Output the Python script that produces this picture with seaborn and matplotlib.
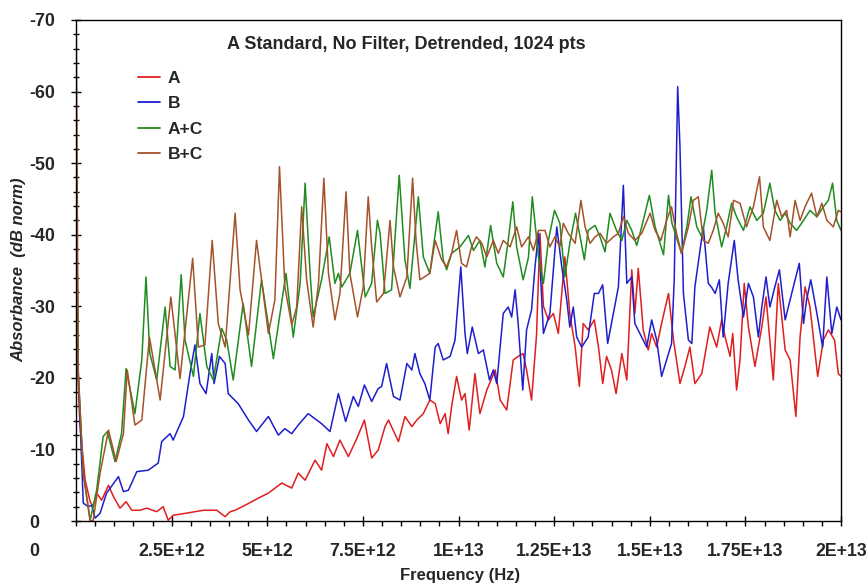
import matplotlib
matplotlib.use("Agg")
import matplotlib.pyplot as plt
import numpy as np
import pandas as pd
import seaborn as sns
from matplotlib.ticker import FixedLocator, MultipleLocator

# ---------------- data (frequency in units of 1E12 Hz, absorbance in dB norm) ----------------
series_names = ["A", "B", "A+C", "B+C"]
series_colors = ["#E01E1E", "#1E1ECC", "#1F8C1F", "#A4522A"]

a_freq = [0.0, 0.10, 0.24, 0.37, 0.45, 0.54, 0.67, 0.85, 0.98, 1.15,
          1.31, 1.46, 1.67, 1.85, 2.11, 2.28, 2.41, 2.54, 2.89, 3.33,
          3.68, 3.90, 4.03, 4.16, 4.42, 4.77, 5.03, 5.38, 5.64, 5.81,
          5.99, 6.25, 6.42, 6.56, 6.73, 6.90, 7.12, 7.34, 7.54, 7.73,
          7.90, 8.08, 8.17, 8.43, 8.60, 8.78, 8.91, 9.08, 9.25, 9.39,
          9.52, 9.65, 9.73, 9.82, 9.95, 10.08, 10.17, 10.28, 10.43, 10.56,
          10.74, 10.96, 11.09, 11.26, 11.43, 11.56, 11.69, 11.78, 11.91, 12.04,
          12.13, 12.22, 12.35, 12.48, 12.61, 12.78, 12.91, 13.05, 13.16, 13.26,
          13.39, 13.55, 13.66, 13.77, 13.87, 14.00, 14.12, 14.27, 14.40, 14.53,
          14.61, 14.70, 14.83, 14.96, 15.05, 15.18, 15.31, 15.49, 15.62, 15.79,
          15.92, 16.05, 16.18, 16.36, 16.57, 16.75, 16.88, 16.97, 17.10, 17.17,
          17.27, 17.36, 17.47, 17.58, 17.75, 17.93, 18.04, 18.23, 18.36, 18.54,
          18.67, 18.82, 18.93, 19.06, 19.19, 19.39, 19.54, 19.67, 19.83, 19.93,
          20.0]
a_abs = [-27, -13.6, -5.7, -2.7, -2.0, -3.9, -2.9, -5.0, -3.4, -1.8,
         -2.7, -1.5, -1.5, -1.8, -1.3, -2.0, -0.1, -0.8, -1.1, -1.5,
         -1.5, -0.6, -1.3, -1.5, -2.2, -3.2, -3.9, -5.3, -4.6, -6.7,
         -5.7, -8.5, -7.1, -10.8, -9.0, -11.3, -9.0, -11.5, -14.1, -8.8,
         -9.9, -13.2, -14.1, -11.1, -14.6, -13.2, -14.1, -15.0, -16.9, -16.4,
         -13.6, -15.0, -12.2, -16.0, -20.2, -16.9, -17.8, -12.7, -20.6, -15.0,
         -18.3, -21.1, -16.9, -15.5, -22.5, -23.0, -23.4, -21.1, -16.9, -26.0,
         -40.2, -30.0, -28.1, -29.0, -26.2, -36.9, -29.0, -24.3, -18.8, -27.6,
         -26.7, -28.1, -24.3, -19.2, -23.0, -21.1, -17.8, -23.4, -19.7, -35.1,
         -29.0, -35.3, -26.7, -23.9, -26.2, -24.3, -27.6, -31.8, -25.3, -19.2,
         -21.6, -24.3, -19.2, -20.6, -27.1, -24.3, -28.1, -25.7, -23.0, -26.2,
         -18.3, -22.5, -33.2, -27.1, -21.6, -27.1, -31.3, -19.7, -33.2, -23.9,
         -22.5, -14.6, -25.7, -32.7, -29.9, -20.2, -25.3, -26.7, -25.3, -20.6,
         -20.2]

b_freq = [0.0, 0.06, 0.19, 0.32, 0.41, 0.50, 0.63, 0.80, 1.11, 1.24,
          1.37, 1.59, 1.89, 2.15, 2.24, 2.46, 2.54, 2.81, 2.98, 3.11,
          3.24, 3.40, 3.55, 3.61, 3.75, 3.90, 3.98, 4.24, 4.51, 4.72,
          4.85, 5.03, 5.29, 5.46, 5.64, 5.81, 6.07, 6.42, 6.64, 6.86,
          7.05, 7.25, 7.38, 7.54, 7.73, 7.90, 7.99, 8.12, 8.30, 8.47,
          8.65, 8.78, 8.86, 8.99, 9.12, 9.25, 9.39, 9.47, 9.60, 9.78,
          9.91, 10.06, 10.17, 10.23, 10.36, 10.52, 10.65, 10.81, 10.91, 11.00,
          11.17, 11.30, 11.39, 11.48, 11.56, 11.68, 11.78, 11.91, 12.00, 12.09,
          12.22, 12.39, 12.57, 12.70, 12.83, 12.91, 13.00, 13.09, 13.22, 13.39,
          13.55, 13.66, 13.77, 13.90, 14.05, 14.18, 14.31, 14.40, 14.53, 14.61,
          14.79, 14.92, 15.05, 15.18, 15.31, 15.44, 15.57, 15.64, 15.73, 15.79,
          15.88, 16.01, 16.10, 16.18, 16.40, 16.53, 16.61, 16.71, 16.82, 16.92,
          17.05, 17.21, 17.31, 17.45, 17.58, 17.71, 17.84, 17.93, 18.04, 18.14,
          18.27, 18.39, 18.54, 18.67, 18.80, 18.91, 19.02, 19.10, 19.21, 19.37,
          19.52, 19.63, 19.76, 19.89, 20.0]
b_abs = [-47.6, -20.6, -2.5, -2.0, -2.2, -0.4, -1.1, -3.9, -6.2, -4.1,
         -4.3, -6.9, -7.1, -8.1, -11.1, -12.2, -11.3, -14.6, -20.6, -24.6,
         -19.2, -17.8, -23.4, -19.2, -23.0, -22.0, -17.8, -16.4, -14.1, -12.5,
         -13.4, -14.6, -12.0, -12.9, -12.2, -13.4, -15.0, -13.6, -12.5, -17.8,
         -13.9, -17.4, -16.0, -19.0, -16.7, -18.5, -18.8, -22.0, -17.4, -16.9,
         -22.0, -21.1, -23.4, -20.6, -19.2, -16.9, -24.3, -24.8, -22.5, -23.0,
         -25.3, -35.5, -26.2, -23.4, -27.1, -23.4, -23.9, -19.7, -21.1, -19.2,
         -29.0, -29.9, -28.5, -32.3, -27.6, -18.3, -26.7, -29.5, -35.5, -40.2,
         -26.2, -29.0, -41.1, -35.5, -30.9, -27.1, -29.9, -25.7, -24.3, -25.7,
         -31.8, -31.8, -33.0, -24.8, -29.0, -32.7, -46.9, -33.2, -34.1, -27.6,
         -25.7, -24.3, -28.1, -25.3, -20.2, -22.5, -24.8, -33.7, -60.7, -52.3,
         -31.8, -25.3, -24.8, -32.7, -41.1, -33.2, -32.7, -31.8, -33.7, -25.7,
         -33.2, -39.2, -33.7, -28.5, -33.2, -31.3, -25.7, -29.9, -34.1, -29.9,
         -32.7, -35.1, -28.1, -30.9, -33.7, -36.0, -27.6, -30.9, -33.7, -29.0,
         -24.3, -34.1, -26.2, -29.9, -28.1]

ac_freq = [0.0, 0.06, 0.19, 0.37, 0.54, 0.71, 0.82, 1.02, 1.19, 1.31,
           1.54, 1.72, 1.83, 1.93, 2.11, 2.33, 2.46, 2.59, 2.75, 2.85,
           3.07, 3.24, 3.42, 3.59, 3.81, 3.94, 4.11, 4.37, 4.59, 4.85,
           5.16, 5.49, 5.68, 5.86, 5.99, 6.12, 6.20, 6.42, 6.62, 6.77,
           6.86, 6.95, 7.16, 7.36, 7.56, 7.73, 7.88, 7.95, 8.08, 8.25,
           8.45, 8.60, 8.73, 8.95, 9.08, 9.25, 9.47, 9.60, 9.69, 9.82,
           10.04, 10.26, 10.39, 10.56, 10.69, 10.84, 11.00, 11.17, 11.30, 11.42,
           11.52, 11.69, 11.83, 11.93, 12.09, 12.22, 12.35, 12.51, 12.65, 12.78,
           12.91, 13.06, 13.18, 13.29, 13.39, 13.57, 13.70, 13.83, 13.96, 14.13,
           14.27, 14.40, 14.53, 14.66, 14.79, 14.99, 15.14, 15.36, 15.49, 15.58,
           15.83, 15.97, 16.08, 16.23, 16.36, 16.49, 16.62, 16.71, 16.88, 17.01,
           17.14, 17.27, 17.45, 17.62, 17.80, 17.97, 18.14, 18.27, 18.41, 18.54,
           18.67, 18.84, 19.02, 19.19, 19.37, 19.54, 19.67, 19.78, 19.89, 20.0]
ac_abs = [-54, -20.6, -6.7, -0.1, -4.3, -11.8, -12.5, -8.3, -12.2, -21.3,
          -15.0, -22.5, -34.1, -23.4, -19.7, -29.9, -21.6, -21.1, -34.4, -25.3,
          -20.2, -29.0, -21.6, -19.7, -26.9, -25.3, -19.7, -30.4, -21.6, -33.7,
          -22.7, -34.6, -25.7, -33.2, -47.2, -34.6, -28.5, -33.7, -39.7, -33.2,
          -34.6, -32.7, -34.6, -40.6, -31.3, -33.2, -42.0, -40.2, -31.8, -32.3,
          -48.3, -36.5, -32.5, -45.3, -36.9, -34.6, -43.2, -36.5, -35.1, -37.4,
          -38.3, -39.9, -37.8, -39.2, -35.5, -41.3, -36.0, -34.1, -39.2, -44.6,
          -38.3, -33.7, -36.9, -45.3, -36.9, -33.2, -39.2, -43.4, -41.6, -34.1,
          -38.8, -43.0, -39.7, -36.5, -40.6, -41.3, -39.7, -37.6, -43.0, -40.6,
          -39.2, -42.0, -40.6, -38.5, -41.1, -45.5, -41.1, -37.2, -45.5, -41.6,
          -37.4, -41.1, -45.3, -41.1, -39.7, -43.4, -49.0, -43.0, -38.3, -41.1,
          -44.4, -42.5, -40.6, -43.9, -42.0, -43.0, -47.2, -43.4, -42.0, -43.0,
          -41.6, -40.6, -42.0, -43.4, -42.5, -43.9, -44.8, -47.2, -42.0, -40.6]

bc_freq = [0.0, 0.06, 0.19, 0.37, 0.45, 0.63, 0.85, 1.05, 1.24, 1.34,
           1.54, 1.72, 1.92, 2.20, 2.48, 2.72, 3.05, 3.20, 3.37, 3.56,
           3.72, 3.90, 4.16, 4.29, 4.51, 4.72, 5.03, 5.20, 5.32, 5.46,
           5.64, 5.77, 5.90, 6.03, 6.20, 6.34, 6.48, 6.60, 6.77, 6.90,
           7.06, 7.16, 7.36, 7.51, 7.64, 7.73, 7.86, 8.04, 8.21, 8.30,
           8.47, 8.65, 8.80, 8.89, 8.99, 9.25, 9.39, 9.56, 9.69, 9.82,
           9.95, 10.08, 10.21, 10.34, 10.47, 10.61, 10.74, 10.91, 11.04, 11.17,
           11.35, 11.52, 11.65, 11.83, 11.96, 12.09, 12.26, 12.39, 12.52, 12.65,
           12.74, 12.87, 13.05, 13.20, 13.31, 13.44, 13.57, 13.70, 13.87, 14.05,
           14.18, 14.31, 14.44, 14.61, 14.79, 15.01, 15.14, 15.29, 15.44, 15.57,
           15.70, 15.83, 16.01, 16.14, 16.27, 16.40, 16.53, 16.66, 16.79, 16.92,
           17.05, 17.19, 17.36, 17.53, 17.71, 17.87, 17.97, 18.14, 18.32, 18.45,
           18.58, 18.67, 18.80, 18.93, 19.06, 19.23, 19.37, 19.50, 19.63, 19.80,
           19.93, 20.0]
bc_abs = [-75, -20.6, -6.7, 0.0, -0.1, -6.7, -12.7, -8.3, -12.2, -21.1,
          -13.4, -14.1, -25.7, -16.9, -31.3, -19.9, -36.7, -24.3, -24.6, -39.2,
          -27.6, -24.3, -43.0, -32.3, -26.0, -39.2, -26.2, -30.9, -49.5, -32.7,
          -27.4, -29.9, -43.9, -33.7, -27.1, -33.2, -47.9, -34.6, -28.1, -31.8,
          -46.0, -34.6, -28.5, -32.7, -45.3, -38.3, -30.6, -31.8, -42.0, -35.5,
          -31.3, -34.1, -47.9, -39.2, -33.7, -34.6, -39.2, -36.5, -35.5, -37.4,
          -40.6, -36.0, -35.5, -38.3, -39.7, -38.8, -36.9, -39.2, -37.4, -39.2,
          -38.3, -41.1, -38.3, -39.7, -37.8, -40.6, -40.6, -38.3, -39.7, -38.3,
          -41.6, -40.2, -38.8, -44.8, -41.1, -38.8, -39.7, -40.2, -38.8, -39.7,
          -40.2, -42.5, -40.2, -39.2, -40.2, -43.0, -40.6, -39.2, -42.0, -43.9,
          -40.2, -37.4, -41.1, -44.8, -45.3, -39.2, -38.8, -40.6, -43.0, -41.6,
          -39.7, -44.8, -44.4, -41.1, -43.9, -48.1, -41.1, -39.2, -44.8, -42.5,
          -43.4, -39.7, -44.8, -42.0, -43.9, -45.8, -42.5, -44.4, -42.0, -41.1,
          -43.4, -43.2]

x_ticks = [2.5e12, 5e12, 7.5e12, 1e13, 1.25e13, 1.5e13, 1.75e13, 2e13]
x_tick_labels = ["2.5E+12", "5E+12", "7.5E+12", "1E+13", "1.25E+13",
                 "1.5E+13", "1.75E+13", "2E+13"]
y_ticks = [0, -10, -20, -30, -40, -50, -60, -70]
y_tick_labels = ["0", "-10", "-20", "-30", "-40", "-50", "-60", "-70"]
title_text = "A Standard, No Filter, Detrended, 1024 pts"
x_label = "Frequency (Hz)"
y_label = "Absorbance  (dB norm)"

# ---------------- build long table ----------------
frames = []
for name, fx, ay in zip(series_names,
                        [a_freq, b_freq, ac_freq, bc_freq],
                        [a_abs, b_abs, ac_abs, bc_abs]):
    frames.append(pd.DataFrame({"freq": np.asarray(fx) * 1e12,
                                "absorb": ay, "series": name}))
df = pd.concat(frames, ignore_index=True)

# ---------------- style ----------------
sns.set_style("white")
plt.rcParams["font.family"] = ["Liberation Sans", "DejaVu Sans"]
plt.rcParams["font.weight"] = "bold"
plt.rcParams["axes.edgecolor"] = "black"
plt.rcParams["axes.linewidth"] = 1.0

W, H = 867, 585
fig = plt.figure(figsize=(W / 100, H / 100), dpi=100)
ax = fig.add_axes([76 / W, 1 - 521 / H, 765 / W, 501 / H])

sns.lineplot(data=df, x="freq", y="absorb", hue="series", hue_order=series_names,
             palette=series_colors, estimator=None, sort=False, linewidth=1.1,
             ax=ax, legend=True)

ax.set_xlim(0, 2e13)
ax.set_ylim(0, -70)

for s in ax.spines.values():
    s.set_visible(True)
    s.set_color("black")
    s.set_linewidth(1.0)

ax.xaxis.set_major_locator(FixedLocator(x_ticks))
ax.set_xticklabels(x_tick_labels)
ax.xaxis.set_minor_locator(MultipleLocator(0.5e12))
ax.yaxis.set_major_locator(FixedLocator(y_ticks))
ax.set_yticklabels(y_tick_labels)
ax.yaxis.set_minor_locator(MultipleLocator(2))

tick_fs = 12.8
ax.tick_params(axis="x", which="major", direction="inout", length=7.2, width=1,
               color="black", labelsize=tick_fs, pad=12.2, bottom=True, top=False)
ax.tick_params(axis="x", which="minor", direction="out", length=3.6, width=1,
               color="black", bottom=True, top=False)
ax.tick_params(axis="y", which="major", direction="inout", length=6.5, width=1,
               color="black", labelsize=tick_fs, pad=30.6, left=True, right=False)
ax.tick_params(axis="y", which="minor", direction="inout", length=4.3, width=1,
               color="black", left=True, right=False)
for lab in ax.get_yticklabels():
    lab.set_horizontalalignment("left")
    lab.set_fontweight("bold")
for lab in ax.get_xticklabels():
    lab.set_fontweight("bold")

# lone "0" label of the frequency axis, drawn left of the origin as in the source
fig.text(29 / W, 1 - 543 / H, "0", ha="left", va="top", fontsize=tick_fs,
         fontweight="bold")

ax.set_xlabel(x_label, fontsize=12, fontweight="bold")
ax.xaxis.set_label_coords(0.502, (521 - 568) / 501)
ax.set_ylabel(y_label, fontsize=12, fontweight="bold", fontstyle="italic")
ax.yaxis.set_label_coords((26 - 76) / 765, 0.501)

ax.text(0.432, 0.942, title_text, transform=ax.transAxes, ha="center",
        va="baseline", fontsize=13, fontweight="bold")

handles, labels = ax.get_legend_handles_labels()
leg = ax.legend(handles, labels, loc="upper left",
                bbox_to_anchor=((138 - 76) / 765, (521 - 71) / 501),
                frameon=False, borderpad=0, borderaxespad=0, handlelength=1.25,
                handletextpad=0.45, labelspacing=0.58,
                prop={"size": 12.5, "weight": "bold"})
for h in leg.legend_handles:
    h.set_linewidth(1.3)

fig.savefig("out.png", dpi=100)
